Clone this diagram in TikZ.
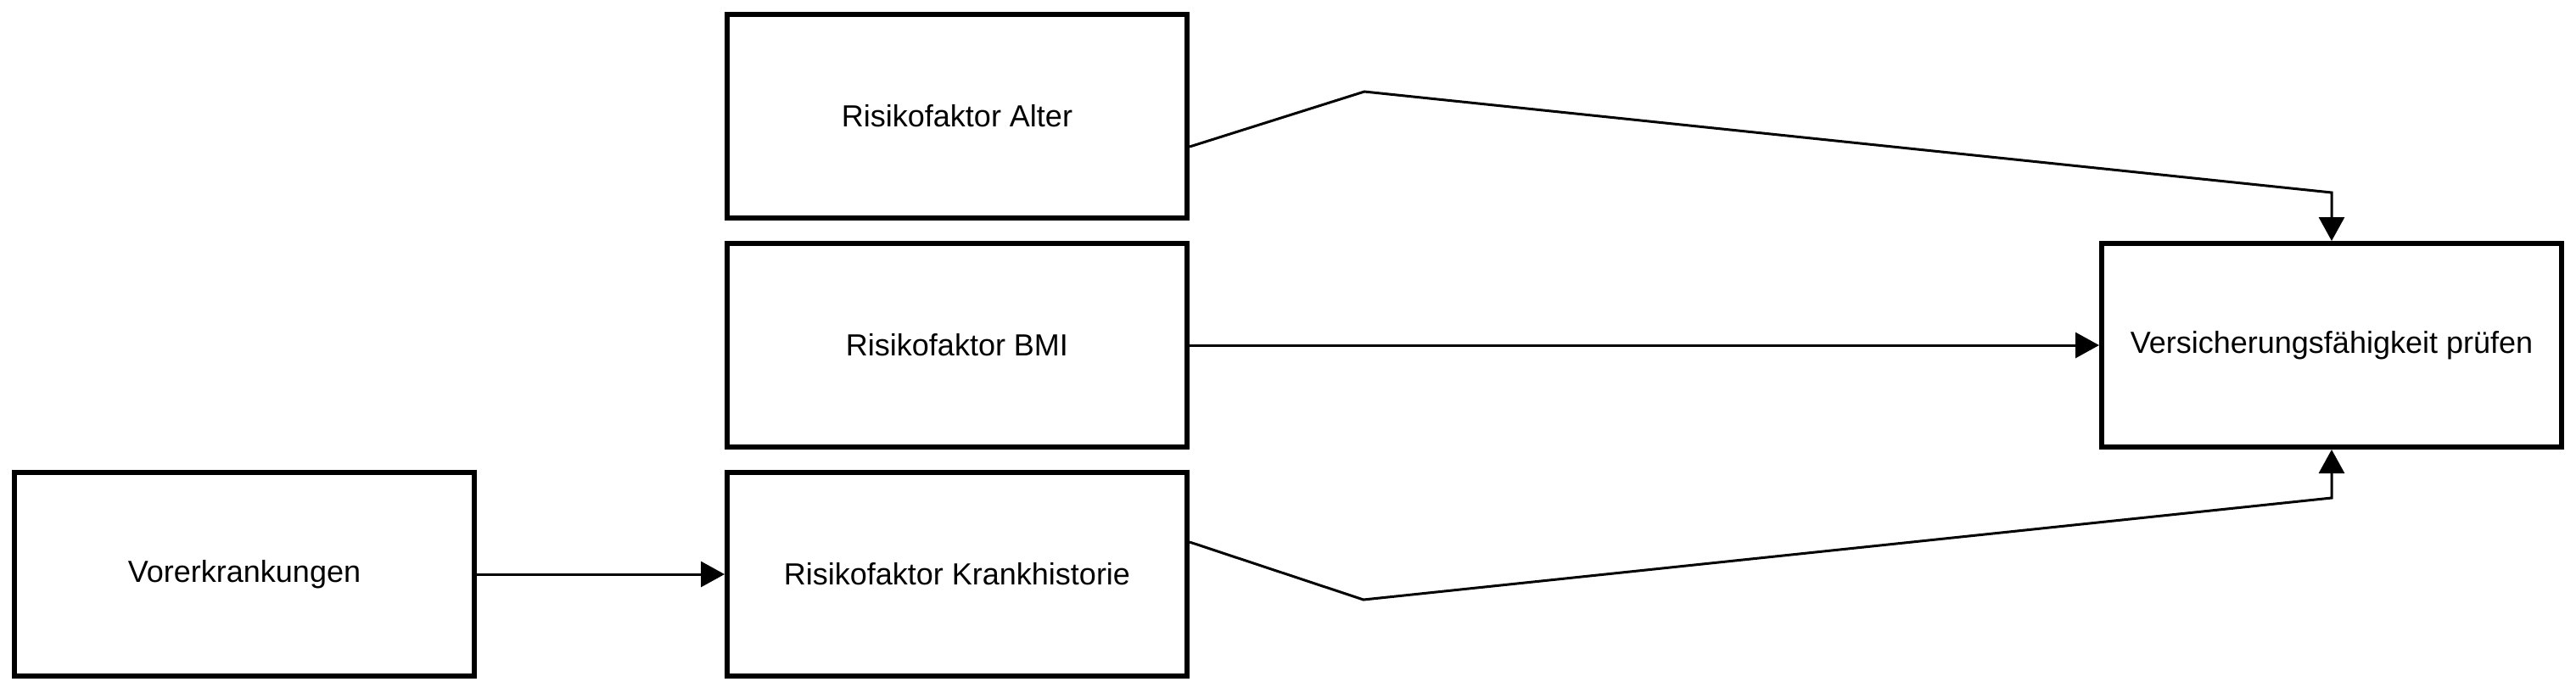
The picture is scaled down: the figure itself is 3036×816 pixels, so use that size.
\documentclass[tikz,border=0pt]{standalone}
\usepackage{fontspec}
\setmainfont{Liberation Sans}
\usetikzlibrary{arrows.meta}
\begin{document}
\begin{tikzpicture}
  [x=0.5pt,y=-0.5pt,every node/.style={draw,line width=3pt,minimum width=271pt,minimum height=120pt,font=\fontsize{18}{22}\selectfont},
   edge/.style={line width=1.5pt,-{Triangle[length=14pt,width=15pt]}}]
  \useasboundingbox (0,0) rectangle (3036,816);
  \node (vor) at (288,677)  {Vorerkrankungen};
  \node (alt) at (1128,137) {Risikofaktor Alter};
  \node (bmi) at (1128,407) {Risikofaktor BMI};
  \node (kra) at (1128,677) {Risikofaktor Krankhistorie};
  \node (ver) at (2748,407) {Versicherungsfähigkeit prüfen};

  \coordinate (a1) at (1608,108);
  \coordinate (a2) at (2748,227);
  \coordinate (k1) at (1607,707);
  \coordinate (k2) at (2748,587);

  \draw[edge] ([yshift=-18pt]alt.east) -- (a1) -- (a2) -- (ver.north);
  \draw[edge] ([yshift=19pt]kra.east) -- (k1) -- (k2) -- (ver.south);
  \foreach \from/\to in {vor/kra,bmi/ver}
    \draw[edge] (\from) -- (\to);

\end{tikzpicture}
\end{document}
